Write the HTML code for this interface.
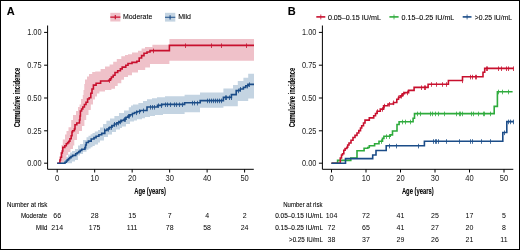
<!DOCTYPE html>
<html><head><meta charset="utf-8"><style>
html,body{margin:0;padding:0;background:#fff;}
svg{display:block;will-change:transform;font-family:"Liberation Sans",sans-serif;}
text{stroke:#000;stroke-width:0.08px;}
text.n{stroke:none;}
</style></head><body>
<svg width="520" height="250" viewBox="0 0 520 250">
<rect x="0.5" y="0.5" width="519" height="249" fill="#fff" stroke="#000" stroke-width="1"/>
<text x="6.8" y="14.9" font-size="11" font-weight="bold">A</text>
<path d="M57.20,163.20 L59.50,163.20 L59.50,160.00 L60.50,160.00 L60.50,152.00 L61.50,152.00 L61.50,145.00 L62.80,145.00 L62.80,139.50 L65.00,139.50 L65.00,134.50 L66.50,134.50 L66.50,131.00 L68.50,131.00 L68.50,127.20 L71.20,127.20 L71.20,120.00 L73.00,120.00 L73.00,115.00 L76.00,115.00 L76.00,111.00 L78.00,111.00 L78.00,107.00 L79.60,107.00 L79.60,104.60 L81.00,104.60 L81.00,99.00 L82.80,99.00 L82.80,95.00 L83.50,95.00 L83.50,90.00 L84.30,90.00 L84.30,84.00 L85.00,84.00 L85.00,79.60 L87.00,79.60 L87.00,76.50 L89.00,76.50 L89.00,74.00 L92.20,74.00 L92.20,72.00 L95.20,72.00 L95.20,71.40 L100.60,71.40 L100.60,69.00 L105.00,69.00 L105.00,66.50 L109.60,66.50 L109.60,64.40 L113.20,64.40 L113.20,61.70 L116.80,61.70 L116.80,59.00 L121.30,59.00 L121.30,56.30 L125.00,56.30 L125.00,55.00 L128.00,55.00 L128.00,54.30 L132.00,54.30 L132.00,52.50 L138.00,52.50 L138.00,50.80 L141.60,50.80 L141.60,48.50 L145.00,48.50 L145.00,47.00 L152.40,47.00 L152.40,44.80 L169.40,44.80 L169.40,38.90 L254.00,38.90 L254.00,60.80 L169.40,60.80 L169.40,64.00 L150.00,64.00 L150.00,67.60 L145.20,67.60 L145.20,70.00 L138.00,70.00 L138.00,72.40 L132.00,72.40 L132.00,75.20 L128.00,75.20 L128.00,77.00 L124.00,77.00 L124.00,79.70 L121.30,79.70 L121.30,83.30 L117.70,83.30 L117.70,86.00 L115.00,86.00 L115.00,88.70 L111.40,88.70 L111.40,90.00 L105.00,90.00 L105.00,91.60 L99.40,91.60 L99.40,93.50 L97.00,93.50 L97.00,96.40 L95.00,96.40 L95.00,99.50 L93.00,99.50 L93.00,104.60 L90.80,104.60 L90.80,110.00 L88.50,110.00 L88.50,115.00 L86.20,115.00 L86.20,120.00 L84.40,120.00 L84.40,126.00 L82.00,126.00 L82.00,131.00 L79.00,131.00 L79.00,134.00 L77.00,134.00 L77.00,140.00 L74.30,140.00 L74.30,145.50 L73.00,145.50 L73.00,149.00 L70.50,149.00 L70.50,152.00 L68.20,152.00 L68.20,155.00 L66.50,155.00 L66.50,161.00 L64.50,161.00 L64.50,163.20 L57.20,163.20Z" fill="#efc1c9"/>
<path d="M57.20,163.20 L62.00,163.20 L62.00,162.00 L64.00,162.00 L64.00,159.50 L66.00,159.50 L66.00,157.00 L68.00,157.00 L68.00,154.50 L70.00,154.50 L70.00,152.50 L72.00,152.50 L72.00,151.00 L75.00,151.00 L75.00,149.00 L78.00,149.00 L78.00,145.50 L80.00,145.50 L80.00,144.00 L83.00,144.00 L83.00,140.00 L86.50,140.00 L86.50,137.30 L88.50,137.30 L88.50,135.80 L90.60,135.80 L90.60,134.20 L92.50,134.20 L92.50,133.00 L94.80,133.00 L94.80,131.60 L98.00,131.60 L98.00,130.00 L100.00,130.00 L100.00,127.50 L103.00,127.50 L103.00,124.00 L106.40,124.00 L106.40,120.80 L110.00,120.80 L110.00,118.50 L114.40,118.50 L114.40,116.00 L119.00,116.00 L119.00,113.00 L124.00,113.00 L124.00,110.40 L128.80,110.40 L128.80,107.20 L131.00,107.20 L131.00,105.50 L133.00,105.50 L133.00,104.50 L138.40,104.50 L138.40,103.00 L143.00,103.00 L143.00,101.00 L147.00,101.00 L147.00,99.30 L152.00,99.30 L152.00,98.20 L157.00,98.20 L157.00,97.20 L165.00,97.20 L165.00,96.20 L184.60,96.20 L184.60,94.80 L200.00,94.80 L200.00,92.60 L223.40,92.60 L223.40,88.60 L233.00,88.60 L233.00,85.00 L237.80,85.00 L237.80,81.00 L243.40,81.00 L243.40,77.80 L248.20,77.80 L248.20,73.80 L254.00,73.80 L254.00,98.60 L248.20,98.60 L248.20,101.00 L237.80,101.00 L237.80,106.20 L223.40,106.20 L223.40,107.80 L200.00,107.80 L200.00,112.30 L184.60,112.30 L184.60,114.00 L163.00,114.00 L163.00,115.00 L155.00,115.00 L155.00,116.00 L150.00,116.00 L150.00,117.00 L145.00,117.00 L145.00,118.20 L142.00,118.20 L142.00,119.20 L137.00,119.20 L137.00,120.50 L134.00,120.50 L134.00,121.60 L130.00,121.60 L130.00,124.00 L126.00,124.00 L126.00,126.40 L122.00,126.40 L122.00,128.00 L120.00,128.00 L120.00,129.60 L116.00,129.60 L116.00,132.00 L112.00,132.00 L112.00,134.40 L108.00,134.40 L108.00,137.00 L104.00,137.00 L104.00,140.50 L100.00,140.50 L100.00,142.50 L98.00,142.50 L98.00,144.60 L94.80,144.60 L94.80,146.00 L92.50,146.00 L92.50,147.20 L90.60,147.20 L90.60,148.50 L88.50,148.50 L88.50,149.80 L86.50,149.80 L86.50,151.80 L83.00,151.80 L83.00,153.90 L80.00,153.90 L80.00,155.50 L78.00,155.50 L78.00,159.90 L75.00,159.90 L75.00,161.50 L72.00,161.50 L72.00,163.20 L70.00,163.20 L70.00,163.20 L57.20,163.20Z" fill="#c4d4e2"/>
<path d="M57.20,163.20H59.90V160.00H60.50V157.30H61.50V153.00H62.30V151.00H62.80V147.40H64.80V145.80H66.30V143.80H67.60V142.60H68.80V141.20H69.90V138.80H71.20V135.80H72.00V132.00H72.60V130.80H74.40V129.00H75.00V124.80H76.80V123.00H79.50V120.00H80.00V116.00H80.40V111.00H81.60V109.00H82.80V107.00H84.40V104.50H86.00V102.20H87.60V99.00H89.20V97.80H90.80V93.20H92.00V89.00H93.40V85.10H96.10V83.30H100.60V81.00H108.70V80.20H110.50V78.80H111.40V77.00H113.20V75.20H115.00V72.50H117.70V70.70H120.40V68.90H122.20V67.10H125.80V65.30H128.00V63.50H132.00V62.40H136.80V61.20H139.20V58.00H141.60V55.60H144.00V53.20H147.00V52.00H150.00V50.60H169.40V45.40H254.00" fill="none" stroke="#c8102e" stroke-width="1.6"/>
<path d="M57.20,163.20H65.00V162.30H66.30V161.00H67.30V159.90H68.50V158.80H69.60V157.60H71.00V156.50H72.60V155.40H75.70V153.80H77.20V152.70H78.70V151.60H80.20V150.40H81.80V149.30H84.90V147.60H85.60V145.00H86.30V142.50H88.40V141.10H91.20V139.00H94.00V137.60H96.10V136.20H98.90V134.80H101.70V133.40H104.80V130.40H107.00V129.00H109.60V127.20H112.00V125.60H114.40V124.00H117.00V122.80H119.20V121.60H121.50V120.40H124.00V119.20H126.00V117.20H128.00V116.00H130.00V114.80H132.40V113.50H134.50V112.50H137.00V111.50H140.20V110.50H147.00V107.00H157.50V105.40H161.70V104.40H184.60V102.80H200.20V100.60H223.40V97.40H231.40V94.60H236.20V90.60H240.20V89.00H243.40V87.40H245.80V85.80H248.20V84.40H254.00" fill="none" stroke="#1b4c88" stroke-width="1.6"/>
<path d="M109.50,78.20V82.80M153.50,48.60V53.20M185.50,43.40V48.00M211.50,43.40V48.00M221.50,43.40V48.00M246.50,43.40V48.00" stroke="#c8102e" stroke-width="0.8"/>
<path d="M104.50,128.40V133.00M108.50,127.00V131.60M111.50,125.20V129.80M114.50,122.00V126.60M116.50,122.00V126.60M118.50,120.80V125.40M120.50,119.60V124.20M124.50,117.20V121.80M125.50,117.20V121.80M128.50,114.00V118.60M129.50,114.00V118.60M132.50,112.80V117.40M136.50,110.50V115.10M139.50,109.50V114.10M143.50,108.50V113.10M150.50,105.00V109.60M152.50,105.00V109.60M154.50,105.00V109.60M158.50,103.40V108.00M161.50,103.40V108.00M165.50,102.40V107.00M167.50,102.40V107.00M170.50,102.40V107.00M174.50,102.40V107.00M176.50,102.40V107.00M179.50,102.40V107.00M182.50,102.40V107.00M192.50,100.80V105.40M194.50,100.80V105.40M197.50,100.80V105.40M207.50,98.60V103.20M209.50,98.60V103.20M211.50,98.60V103.20M213.50,98.60V103.20M215.50,98.60V103.20M217.50,98.60V103.20M219.50,98.60V103.20M221.50,98.60V103.20M225.50,95.40V100.00M226.50,95.40V100.00M229.50,95.40V100.00M231.50,95.40V100.00M238.50,88.60V93.20M240.50,87.00V91.60M247.50,83.80V88.40M249.50,82.40V87.00" stroke="#1b4c88" stroke-width="0.8"/>
<path d="M47.6,25.5V169.3H253.8" fill="none" stroke="#000" stroke-width="1"/><path d="M44.1,32.4H47.6M44.1,65.2H47.6M44.1,98H47.6M44.1,130.8H47.6M44.1,163.2H47.6M57.2,169.3V172.5M94.68,169.3V172.5M132.16,169.3V172.5M169.64,169.3V172.5M207.12,169.3V172.5M244.59999999999997,169.3V172.5" stroke="#000" stroke-width="1"/><text x="41.6" y="35.4" font-size="8.3" text-anchor="end" textLength="14.4" lengthAdjust="spacingAndGlyphs" fill="#222" class="n">1.00</text><text x="41.6" y="68.2" font-size="8.3" text-anchor="end" textLength="14.4" lengthAdjust="spacingAndGlyphs" fill="#222" class="n">0.75</text><text x="41.6" y="101.0" font-size="8.3" text-anchor="end" textLength="14.4" lengthAdjust="spacingAndGlyphs" fill="#222" class="n">0.50</text><text x="41.6" y="133.8" font-size="8.3" text-anchor="end" textLength="14.4" lengthAdjust="spacingAndGlyphs" fill="#222" class="n">0.25</text><text x="41.6" y="166.2" font-size="8.3" text-anchor="end" textLength="14.4" lengthAdjust="spacingAndGlyphs" fill="#222" class="n">0.00</text><text x="57.2" y="180.9" font-size="8.3" text-anchor="middle" textLength="4.2" lengthAdjust="spacingAndGlyphs" fill="#222" class="n">0</text><text x="94.68" y="180.9" font-size="8.3" text-anchor="middle" textLength="8.4" lengthAdjust="spacingAndGlyphs" fill="#222" class="n">10</text><text x="132.16" y="180.9" font-size="8.3" text-anchor="middle" textLength="8.4" lengthAdjust="spacingAndGlyphs" fill="#222" class="n">20</text><text x="169.64" y="180.9" font-size="8.3" text-anchor="middle" textLength="8.4" lengthAdjust="spacingAndGlyphs" fill="#222" class="n">30</text><text x="207.12" y="180.9" font-size="8.3" text-anchor="middle" textLength="8.4" lengthAdjust="spacingAndGlyphs" fill="#222" class="n">40</text><text x="244.59999999999997" y="180.9" font-size="8.3" text-anchor="middle" textLength="8.4" lengthAdjust="spacingAndGlyphs" fill="#222" class="n">50</text>
<rect x="110.3" y="12.8" width="10.1" height="8.7" fill="#efc1c9"/>
<path d="M110.3,17.1H120.4M115.3,15.1V19.3" stroke="#c8102e" stroke-width="1.1"/>
<text x="122.9" y="19.45" font-size="7.6" textLength="29.4" lengthAdjust="spacingAndGlyphs">Moderate</text>
<rect x="165" y="12.8" width="10.3" height="8.8" fill="#c4d4e2"/>
<path d="M165,17.3H175.3M170.1,15.3V19.5" stroke="#1b4c88" stroke-width="1.1"/>
<text x="178.2" y="19.45" font-size="7.6" textLength="12.8" lengthAdjust="spacingAndGlyphs">Mild</text>
<text transform="translate(19.5,97.5) rotate(-90)" font-size="8.2" font-weight="bold" text-anchor="middle" textLength="59.5" lengthAdjust="spacingAndGlyphs">Cumulative incidence</text>
<text x="134.2" y="193.6" font-size="8.6" font-weight="bold" textLength="31.8" lengthAdjust="spacingAndGlyphs">Age (years)</text>
<text x="7.1" y="207" font-size="7.5" textLength="40.2" lengthAdjust="spacingAndGlyphs">Number at risk</text>
<text x="47.3" y="218.3" font-size="7.5" text-anchor="end" textLength="26.4" lengthAdjust="spacingAndGlyphs">Moderate</text>
<text x="47.3" y="230.1" font-size="7.5" text-anchor="end" textLength="11.2" lengthAdjust="spacingAndGlyphs">Mild</text>
<text x="57.2" y="218.3" font-size="7" text-anchor="middle" class="n">66</text>
<text x="57.2" y="230.1" font-size="7" text-anchor="middle" class="n">214</text>
<text x="94.68" y="218.3" font-size="7" text-anchor="middle" class="n">28</text>
<text x="94.68" y="230.1" font-size="7" text-anchor="middle" class="n">175</text>
<text x="132.16" y="218.3" font-size="7" text-anchor="middle" class="n">15</text>
<text x="132.16" y="230.1" font-size="7" text-anchor="middle" class="n">111</text>
<text x="169.64" y="218.3" font-size="7" text-anchor="middle" class="n">7</text>
<text x="169.64" y="230.1" font-size="7" text-anchor="middle" class="n">78</text>
<text x="207.12" y="218.3" font-size="7" text-anchor="middle" class="n">4</text>
<text x="207.12" y="230.1" font-size="7" text-anchor="middle" class="n">58</text>
<text x="244.59999999999997" y="218.3" font-size="7" text-anchor="middle" class="n">2</text>
<text x="244.59999999999997" y="230.1" font-size="7" text-anchor="middle" class="n">24</text>
<text x="287.8" y="15.2" font-size="11" font-weight="bold">B</text>
<path d="M331.50,163.20H337.60V160.40H350.80V158.00H357.00V150.80H364.10V148.30H367.80V147.50H369.30V145.70H374.60V143.70H379.00V141.20H382.50V138.40H383.90V136.30H390.20V134.90H392.50V131.00H397.00V124.50H399.10V121.70H413.10V118.20H414.50V113.60H494.20V106.40H497.40V91.70H512.60" fill="none" stroke="#2eab3c" stroke-width="1.6"/>
<path d="M331.50,163.20H340.30V158.00H341.50V155.00H342.50V153.80H343.80V150.30H345.10V148.50H346.90V147.20H347.70V145.00H349.00V143.00H351.00V140.20H353.00V137.50H355.00V135.40H357.00V133.00H358.80V130.60H360.50V128.00H361.70V125.80H363.50V123.00H365.00V120.10H369.30V117.90H373.70V115.70H375.50V113.50H377.00V111.30H380.30V109.10H383.60V105.80H388.00V104.00H393.50V102.50H396.80V99.20H398.50V97.50H400.10V95.90H402.30V93.70H404.50V92.60H408.60V90.40H414.10V87.40H428.10V84.20H448.40V80.50H462.50V76.80H483.00V72.20H484.70V68.40H513.60" fill="none" stroke="#c8102e" stroke-width="1.6"/>
<path d="M331.50,163.20H345.50V158.60H372.70V155.00H376.00V150.50H386.20V145.80H424.40V141.20H502.80V132.50H506.80V121.60H513.60" fill="none" stroke="#1b4c88" stroke-width="1.6"/>
<path d="M377.50,109.30V113.90M382.50,107.10V111.70M384.50,103.80V108.40M389.50,102.00V106.60M393.50,100.50V105.10M398.50,95.50V100.10M401.50,93.90V98.50M403.50,91.70V96.30M407.50,90.60V95.20M421.50,85.40V90.00M424.50,85.40V90.00M425.50,85.40V90.00M431.50,82.20V86.80M436.50,82.20V86.80M442.50,82.20V86.80M446.50,82.20V86.80M462.50,78.50V83.10M470.50,74.80V79.40M472.50,74.80V79.40M475.50,74.80V79.40M476.50,74.80V79.40M486.50,66.40V71.00M487.50,66.40V71.00M498.50,66.40V71.00M501.50,66.40V71.00M506.50,66.40V71.00M508.50,66.40V71.00M513.50,66.40V71.00" stroke="#c8102e" stroke-width="0.8"/>
<path d="M381.50,139.20V143.80M386.50,134.30V138.90M389.50,134.30V138.90M402.50,119.70V124.30M405.50,119.70V124.30M410.50,119.70V124.30M417.50,111.60V116.20M420.50,111.60V116.20M430.50,111.60V116.20M432.50,111.60V116.20M435.50,111.60V116.20M438.50,111.60V116.20M444.50,111.60V116.20M456.50,111.60V116.20M459.50,111.60V116.20M460.50,111.60V116.20M462.50,111.60V116.20M471.50,111.60V116.20M473.50,111.60V116.20M478.50,111.60V116.20M483.50,111.60V116.20M484.50,111.60V116.20M490.50,111.60V116.20M498.50,89.70V94.30M502.50,89.70V94.30M508.50,89.70V94.30" stroke="#2eab3c" stroke-width="0.8"/>
<path d="M389.50,143.80V148.40M396.50,143.80V148.40M418.50,143.80V148.40M433.50,139.20V143.80M435.50,139.20V143.80M436.50,139.20V143.80M438.50,139.20V143.80M446.50,139.20V143.80M459.50,139.20V143.80M470.50,139.20V143.80M472.50,139.20V143.80M481.50,139.20V143.80M490.50,139.20V143.80M504.50,130.50V135.10M508.50,119.60V124.20M510.50,119.60V124.20M513.50,119.60V124.20" stroke="#1b4c88" stroke-width="0.8"/>
<path d="M322.4,25.5V169.3H513.3" fill="none" stroke="#000" stroke-width="1"/><path d="M318.9,32.4H322.4M318.9,65.2H322.4M318.9,98H322.4M318.9,130.8H322.4M318.9,163.2H322.4M331.5,169.3V172.5M366.0,169.3V172.5M400.5,169.3V172.5M435.0,169.3V172.5M469.5,169.3V172.5M504.0,169.3V172.5" stroke="#000" stroke-width="1"/><text x="316.4" y="35.4" font-size="8.3" text-anchor="end" textLength="14.4" lengthAdjust="spacingAndGlyphs" fill="#222" class="n">1.00</text><text x="316.4" y="68.2" font-size="8.3" text-anchor="end" textLength="14.4" lengthAdjust="spacingAndGlyphs" fill="#222" class="n">0.75</text><text x="316.4" y="101.0" font-size="8.3" text-anchor="end" textLength="14.4" lengthAdjust="spacingAndGlyphs" fill="#222" class="n">0.50</text><text x="316.4" y="133.8" font-size="8.3" text-anchor="end" textLength="14.4" lengthAdjust="spacingAndGlyphs" fill="#222" class="n">0.25</text><text x="316.4" y="166.2" font-size="8.3" text-anchor="end" textLength="14.4" lengthAdjust="spacingAndGlyphs" fill="#222" class="n">0.00</text><text x="331.5" y="180.9" font-size="8.3" text-anchor="middle" textLength="4.2" lengthAdjust="spacingAndGlyphs" fill="#222" class="n">0</text><text x="366.0" y="180.9" font-size="8.3" text-anchor="middle" textLength="8.4" lengthAdjust="spacingAndGlyphs" fill="#222" class="n">10</text><text x="400.5" y="180.9" font-size="8.3" text-anchor="middle" textLength="8.4" lengthAdjust="spacingAndGlyphs" fill="#222" class="n">20</text><text x="435.0" y="180.9" font-size="8.3" text-anchor="middle" textLength="8.4" lengthAdjust="spacingAndGlyphs" fill="#222" class="n">30</text><text x="469.5" y="180.9" font-size="8.3" text-anchor="middle" textLength="8.4" lengthAdjust="spacingAndGlyphs" fill="#222" class="n">40</text><text x="504.0" y="180.9" font-size="8.3" text-anchor="middle" textLength="8.4" lengthAdjust="spacingAndGlyphs" fill="#222" class="n">50</text>
<path d="M316.3,16.9H325.3" stroke="#c8102e" stroke-width="1.6"/><path d="M320.80,14.5V19.4" stroke="#c8102e" stroke-width="0.8"/>
<text x="327.9" y="19.5" font-size="7.3" textLength="53" lengthAdjust="spacingAndGlyphs">0.05–0.15 IU/mL</text>
<path d="M389.4,16.9H398.6" stroke="#2eab3c" stroke-width="1.6"/><path d="M394.00,14.5V19.4" stroke="#2eab3c" stroke-width="0.8"/>
<text x="401.5" y="19.5" font-size="7.3" textLength="52.8" lengthAdjust="spacingAndGlyphs">0.15–0.25 IU/mL</text>
<path d="M462.7,16.9H471.5" stroke="#1b4c88" stroke-width="1.6"/><path d="M467.10,14.5V19.4" stroke="#1b4c88" stroke-width="0.8"/>
<text x="474.8" y="19.5" font-size="7.3" textLength="37.3" lengthAdjust="spacingAndGlyphs">&gt;0.25 IU/mL</text>
<text transform="translate(295.0,97.5) rotate(-90)" font-size="8.2" font-weight="bold" text-anchor="middle" textLength="59.5" lengthAdjust="spacingAndGlyphs">Cumulative incidence</text>
<text x="401.9" y="193.6" font-size="8.6" font-weight="bold" textLength="31.8" lengthAdjust="spacingAndGlyphs">Age (years)</text>
<text x="283.2" y="207" font-size="7.5" textLength="39.3" lengthAdjust="spacingAndGlyphs">Number at risk</text>
<text x="323" y="218.3" font-size="7.5" text-anchor="end" textLength="47.8" lengthAdjust="spacingAndGlyphs">0.05–0.15 IU/mL</text>
<text x="323" y="230.1" font-size="7.5" text-anchor="end" textLength="47.8" lengthAdjust="spacingAndGlyphs">0.15–0.25 IU/mL</text>
<text x="323" y="242.0" font-size="7.5" text-anchor="end" textLength="34" lengthAdjust="spacingAndGlyphs">&gt;0.25 IU/mL</text>
<text x="331.5" y="218.3" font-size="7" text-anchor="middle" class="n">104</text>
<text x="366.0" y="218.3" font-size="7" text-anchor="middle" class="n">72</text>
<text x="400.5" y="218.3" font-size="7" text-anchor="middle" class="n">41</text>
<text x="435.0" y="218.3" font-size="7" text-anchor="middle" class="n">25</text>
<text x="469.5" y="218.3" font-size="7" text-anchor="middle" class="n">17</text>
<text x="504.0" y="218.3" font-size="7" text-anchor="middle" class="n">5</text>
<text x="331.5" y="230.1" font-size="7" text-anchor="middle" class="n">72</text>
<text x="366.0" y="230.1" font-size="7" text-anchor="middle" class="n">65</text>
<text x="400.5" y="230.1" font-size="7" text-anchor="middle" class="n">41</text>
<text x="435.0" y="230.1" font-size="7" text-anchor="middle" class="n">27</text>
<text x="469.5" y="230.1" font-size="7" text-anchor="middle" class="n">20</text>
<text x="504.0" y="230.1" font-size="7" text-anchor="middle" class="n">8</text>
<text x="331.5" y="242.0" font-size="7" text-anchor="middle" class="n">38</text>
<text x="366.0" y="242.0" font-size="7" text-anchor="middle" class="n">37</text>
<text x="400.5" y="242.0" font-size="7" text-anchor="middle" class="n">29</text>
<text x="435.0" y="242.0" font-size="7" text-anchor="middle" class="n">26</text>
<text x="469.5" y="242.0" font-size="7" text-anchor="middle" class="n">21</text>
<text x="504.0" y="242.0" font-size="7" text-anchor="middle" class="n">11</text>
</svg>
</body></html>
